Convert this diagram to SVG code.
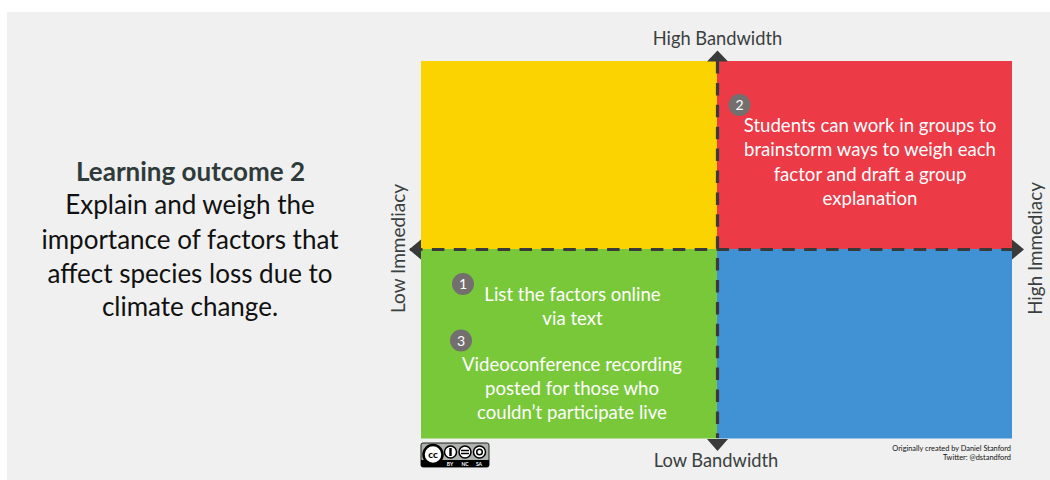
<svg xmlns="http://www.w3.org/2000/svg" width="1050" height="480" viewBox="0 0 1050 480">
<style>
text{font-family:Lato,"Open Sans","Liberation Sans",sans-serif}
.w{fill:#fff;font-size:18.6px;text-anchor:middle}
.k{fill:#111;font-size:26px;text-anchor:middle}
.ax{fill:#3a3f3f;font-size:18.3px;text-anchor:middle}
.n{fill:#fff;font-size:14px;text-anchor:middle}
.b{fill:#736f6f}
.d{stroke:#3a3a3a;stroke-width:3.200;stroke-dasharray:12.500 9.400;fill:none}
.h{fill:#3a3a3a}
</style>
<rect width="1050" height="480" fill="#fff"/>
<rect x="7" y="12" width="1043" height="468" fill="#f0f0f0"/>
<g id="quadrants">
<rect id="q-yellow" x="421" y="61" width="296" height="188" fill="#fbd300"/>
<rect id="q-red" x="717" y="61" width="295" height="188" fill="#ec3a46"/>
<rect id="q-green" x="421" y="249" width="296" height="189.500" fill="#79c83a"/>
<rect id="q-blue" x="717" y="249" width="295" height="189.500" fill="#4192d5"/>
</g>
<g id="connectors">
<path class="d" d="M410 249.500H1012"/>
<path class="d" d="M717.500 61V438"/>
<path class="h" d="M717.500 50.500L728 61.500H707Z"/>
<path class="h" d="M717.500 451L707 439H728Z"/>
<path class="h" d="M409 249.500L421 239.500V259.500Z"/>
<path class="h" d="M1024 249.500L1012 239.500V259.500Z"/>
</g>
<g id="outcome">
<text class="k" x="190.500" y="181" font-weight="700" style="fill:#2f3b3b">Learning outcome 2</text>
<text class="k" x="190" y="214">Explain and weigh the</text>
<text class="k" x="190" y="249">importance of factors that</text>
<text class="k" x="190" y="283">affect species loss due to</text>
<text class="k" x="190" y="316">climate change.</text>
</g>
<g id="axis-labels">
<text class="ax" x="717.500" y="45">High Bandwidth</text>
<text class="ax" x="716" y="467">Low Bandwidth</text>
<text class="ax" style="font-size:19px" transform="translate(405 248.500) rotate(-90)">Low Immediacy</text>
<text class="ax" style="font-size:18.800px" transform="translate(1042 248.500) rotate(-90)">High Immediacy</text>
</g>
<g id="note-2">
<circle class="b" cx="739.500" cy="105" r="11"/>
<text class="n" x="739.500" y="110">2</text>
<text class="w" x="870" y="131.500">Students can work in groups to</text>
<text class="w" x="870" y="155.500">brainstorm ways to weigh each</text>
<text class="w" x="870" y="180.500">factor and draft a group</text>
<text class="w" x="870" y="204.500">explanation</text>
</g>
<g id="note-1">
<circle class="b" cx="463" cy="284" r="11"/>
<text class="n" x="463" y="289">1</text>
<text class="w" x="572.500" y="300.500">List the factors online</text>
<text class="w" x="572.500" y="324.500">via text</text>
</g>
<g id="note-3">
<circle class="b" cx="461" cy="340.500" r="11"/>
<text class="n" x="461" y="345.500">3</text>
<text class="w" x="572" y="370.500">Videoconference recording</text>
<text class="w" x="572" y="394.500">posted for those who</text>
<text class="w" x="572" y="418.500">couldn’t participate live</text>
</g>
<g id="license">
<rect x="421" y="443" width="68" height="24" rx="2" fill="#aeb2ad" stroke="#222"/>
<path d="M421 460H489V465a2 2 0 0 1-2 2H423a2 2 0 0 1-2-2Z" fill="#000"/>
<circle cx="433" cy="454.500" r="9.500" fill="#fff" stroke="#000" stroke-width="2.500"/>
<text x="433" y="458" font-size="10" font-weight="900" text-anchor="middle" fill="#000">cc</text>
<circle cx="450.500" cy="452" r="6" fill="#fff" stroke="#000" stroke-width="1.500"/>
<circle cx="465" cy="452" r="6" fill="#fff" stroke="#000" stroke-width="1.500"/>
<circle cx="479.500" cy="452" r="6" fill="#fff" stroke="#000" stroke-width="1.500"/>
<rect x="449.300" y="448" width="2.400" height="8" fill="#000"/>
<path d="M461 450.500H469M461 453.500H469" stroke="#000" stroke-width="1.500"/>
<circle cx="479.500" cy="452" r="2.800" fill="none" stroke="#000" stroke-width="1.500"/>
<text x="450" y="466" font-size="5" font-weight="700" text-anchor="middle" fill="#fff">BY</text>
<text x="465" y="466" font-size="5" font-weight="700" text-anchor="middle" fill="#fff">NC</text>
<text x="479" y="466" font-size="5" font-weight="700" text-anchor="middle" fill="#fff">SA</text>
</g>
<g id="credit">
<text x="1011" y="450.500" font-size="7.400" text-anchor="end" fill="#111">Originally created by Daniel Stanford</text>
<text x="1011" y="460" font-size="7.400" text-anchor="end" fill="#111">Twitter: @dstandford</text>
</g>
</svg>
